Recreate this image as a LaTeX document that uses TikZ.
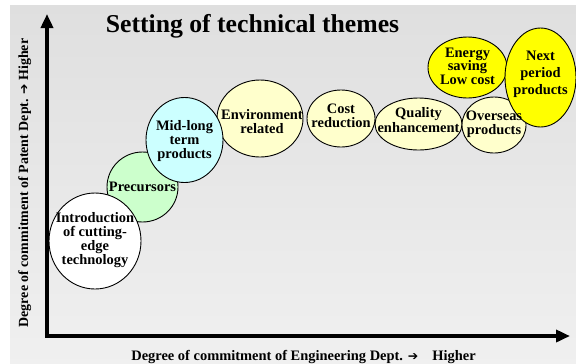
\documentclass[tikz,border=0pt]{standalone}
\usepackage{fontspec}
\setmainfont{Liberation Serif}
\newfontfamily\arrowfont{DejaVu Sans}
\usetikzlibrary{shapes.geometric,arrows.meta}
\begin{document}
\begin{tikzpicture}[x=1bp,y=-1bp,
  bub/.style={draw=black,line width=0.9bp,ellipse,inner sep=0pt},
  btxt/.style={font=\fontsize{14.5}{14}\selectfont\bfseries,align=center,inner sep=0pt},
  axislab/.style={font=\fontsize{14}{14}\selectfont\bfseries,inner sep=0pt},
  axisline/.style={line width=3.5bp,{Triangle[length=14bp,width=12bp]}-{Triangle[length=14bp,width=12bp]}},
  paleyellow/.style={fill={rgb,255:red,255;green,255;blue,204}},
  paleblue/.style={fill={rgb,255:red,204;green,255;blue,255}},
  palegreen/.style={fill={rgb,255:red,204;green,255;blue,204}},
  brightyellow/.style={fill={rgb,255:red,255;green,255;blue,0}}
]
\useasboundingbox (0,0) rectangle (576,363);
\shade[top color=gray!25,bottom color=gray!12] (10,5) rectangle (576,363);

% title
\node[font=\fontsize{25.8}{28}\selectfont\bfseries,inner sep=0pt,anchor=base] (title) at (252.5,32.5) {Setting of technical themes};

% axes
\coordinate (ytop) at (47,14);
\coordinate (org) at (47,336);
\coordinate (xend) at (570,336);
\draw[axisline] (ytop) -- (org) -- (xend);

\node[axislab,rotate=90,anchor=base] (ylab) at (28,183) {Degree of commitment of Patent Dept. {\arrowfont\fontsize{12.5}{12}\selectfont ➔} Higher};
\node[axislab,font=\fontsize{14.5}{14}\selectfont\bfseries,anchor=base] (xlab) at (303.5,360) {Degree of commitment of Engineering Dept. {\arrowfont\fontsize{12.5}{12}\selectfont ➔}\hspace{14bp}Higher};

% bubbles
\node[bub,palegreen,minimum width=71bp,minimum height=70bp] (prec) at (142.5,187) {};
\node[bub,fill=white,minimum width=92bp,minimum height=96bp] (intro) at (95,241) {};
\node[bub,paleyellow,minimum width=86bp,minimum height=77bp] (env) at (260,118.5) {};
\node[bub,paleblue,minimum width=77bp,minimum height=85bp] (mid) at (184.5,140) {};
\node[bub,paleyellow,minimum width=68bp,minimum height=57bp] (cost) at (341,118.5) {};
\node[bub,paleyellow,minimum width=87bp,minimum height=52bp] (qual) at (418.5,124) {};
\node[bub,paleyellow,minimum width=64bp,minimum height=56bp] (over) at (494,125) {};
\node[bub,brightyellow,minimum width=79bp,minimum height=61bp] (energy) at (467.5,67.5) {};
\node[bub,brightyellow,minimum width=71bp,minimum height=99bp] (next) at (540.5,77.5) {};

% bubble texts
\node[btxt] (tprec) at (142.5,187) {Precursors};
\node[btxt] (tintro) at (95,240) {Introduction\\of cutting-\\edge\\technology};
\node[btxt] (tmid) at (184.5,141) {Mid-long\\term\\products};
\node[btxt] (tenv) at (262,122) {Environment\\related};
\node[btxt] (tcost) at (341,116) {Cost\\reduction};
\node[btxt,font=\fontsize{14.5}{12.5}\selectfont\bfseries] (tqual) at (418.5,120) {Quality\\enhancement};
\node[btxt] (tover) at (494,124) {Overseas\\products};
\node[btxt,font=\fontsize{14.5}{13.5}\selectfont\bfseries] (tenergy) at (467.5,66) {Energy\\saving\\Low cost};
\node[btxt,font=\fontsize{14.5}{17}\selectfont\bfseries] (tnext) at (540.5,74) {Next\\period\\products};
\end{tikzpicture}
\end{document}
